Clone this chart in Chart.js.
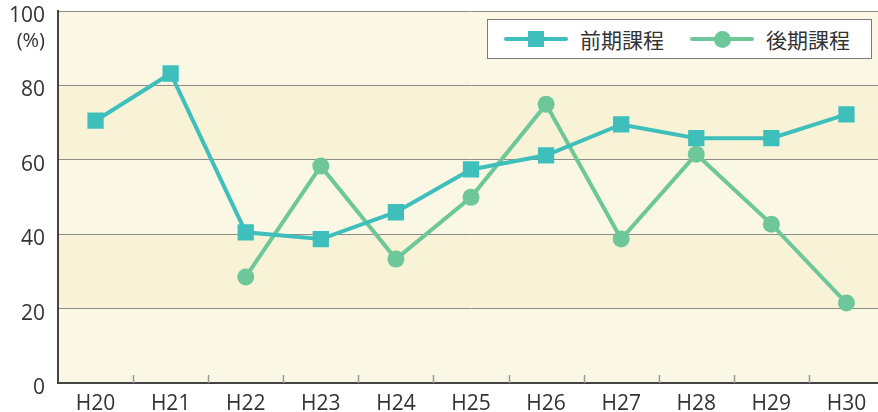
<!DOCTYPE html>
<html>
<head>
<meta charset="utf-8">
<script src="https://cdn.jsdelivr.net/npm/chart.js@4/dist/chart.umd.min.js"></script>
<style>
  body { margin: 0; background: #fff; }
  #wrap { position: relative; width: 878px; height: 412px; overflow: hidden; }
  #chart { display: block; }
  #legend {
    position: absolute; left: 487px; top: 19px; width: 383px; height: 38px;
    border: 1px solid #7a7a7a; background: #fff;
    display: flex; align-items: center;
    font-family: 'Noto Sans CJK JP', sans-serif; font-size: 21px; color: #333;
  }
  .item { display: flex; align-items: center; }
  .swatch { position: relative; width: 64px; height: 4px; border-radius: 2px; margin-right: 12px; }
  .swatch i { position: absolute; left: 24px; top: -6px; width: 16px; height: 16px; }
</style>
</head>
<body>
<div id="wrap">
  <!-- the plot runs a little past the right edge of the picture, so the canvas is a bit wider than the window -->
  <canvas id="chart" width="884" height="412"></canvas>
  <div id="legend"></div>
</div>
<script>
// Data
const years = ['H20', 'H21', 'H22', 'H23', 'H24', 'H25', 'H26', 'H27', 'H28', 'H29', 'H30'];
const zenki = [70.5, 83.2, 40.5, 38.7, 45.9, 57.4, 61.2, 69.5, 65.8, 65.8, 72.2];
const kouki = [null, null, 28.5, 58.3, 33.3, 49.9, 74.9, 38.7, 61.5, 42.7, 21.5];
const yTicks = [0, 20, 40, 60, 80, 100];

const TEAL = '#3fbfbb';
const GREEN = '#6ec799';
const FONT = "'Open Sans', 'Noto Sans CJK JP', sans-serif";

// Bands behind the grid
const bandPlugin = {
  id: 'bands',
  beforeDraw(chart) {
    const { ctx, chartArea } = chart;
    const y = chart.scales.y;
    ctx.save();
    for (let i = 0; i < yTicks.length - 1; i++) {
      const top = y.getPixelForValue(yTicks[i + 1]);
      const bottom = y.getPixelForValue(yTicks[i]);
      ctx.fillStyle = i % 2 === 0 ? '#faf7e4' : '#f8f3d7';
      ctx.fillRect(chartArea.left, top, chartArea.right - chartArea.left, bottom - top);
    }
    ctx.restore();
  }
};

// Small upward ticks between categories, and the (%) unit
const extrasPlugin = {
  id: 'extras',
  beforeDatasetsDraw(chart) {
    const { ctx, chartArea } = chart;
    const x = chart.scales.x;
    ctx.save();
    ctx.strokeStyle = '#9a9a9a';
    ctx.lineWidth = 1.5;
    for (let i = 1; i < years.length; i++) {
      const px = Math.round((x.getPixelForValue(i - 1) + x.getPixelForValue(i)) / 2) + 0.5;
      ctx.beginPath();
      ctx.moveTo(px, chartArea.bottom);
      ctx.lineTo(px, chartArea.bottom - 8);
      ctx.stroke();
    }
    ctx.restore();
  },
  afterDraw(chart) {
    const { ctx } = chart;
    const y = chart.scales.y;
    ctx.save();
    ctx.font = '20px ' + FONT;
    ctx.fillStyle = '#333';
    ctx.textAlign = 'right';
    ctx.textBaseline = 'middle';
    ctx.fillText('(%)', y.right - 13, y.getPixelForValue(100) + 30);
    ctx.restore();
  }
};

const datasets = [
  {
    label: '前期課程',
    data: zenki,
    borderColor: TEAL,
    backgroundColor: TEAL,
    borderWidth: 4,
    pointStyle: 'rect',
    pointRadius: 11.5,
    pointBorderWidth: 0,
    tension: 0
  },
  {
    label: '後期課程',
    data: kouki,
    borderColor: GREEN,
    backgroundColor: GREEN,
    borderWidth: 4,
    pointStyle: 'circle',
    pointRadius: 8.5,
    pointBorderWidth: 0,
    tension: 0
  }
];

new Chart(document.getElementById('chart'), {
  type: 'line',
  data: { labels: years, datasets },
  options: {
    responsive: false,
    animation: false,
    layout: { autoPadding: false, padding: { top: 11, right: 0, left: 0, bottom: 0 } },
    plugins: { legend: { display: false }, tooltip: { enabled: false } },
    scales: {
      x: {
        offset: true,
        grid: { display: false },
        border: { color: '#444', width: 2 },
        ticks: { color: '#333', font: { family: FONT, size: 21, lineHeight: 1 }, padding: 3 },
        afterFit(scale) {
          scale.height = 29;
          scale.paddingLeft = 0;
          scale.paddingRight = 0;
        }
      },
      y: {
        min: 0,
        max: 100,
        grid: { color: '#8c8c8c', lineWidth: 1, drawTicks: false },
        border: { color: '#444', width: 2 },
        ticks: {
          stepSize: 20,
          color: '#333',
          font: { family: FONT, size: 21, lineHeight: 1 },
          padding: 13,
          labelOffset: 5
        },
        afterFit(scale) {
          scale.width = 58;
          scale.paddingTop = 0;
          scale.paddingBottom = 0;
        }
      }
    }
  },
  plugins: [bandPlugin, extrasPlugin]
});

// Legend
const legend = document.getElementById('legend');
datasets.forEach((ds, i) => {
  const item = document.createElement('div');
  item.className = 'item';
  item.style.marginLeft = i === 0 ? '16px' : '26px';
  const sw = document.createElement('span');
  sw.className = 'swatch';
  sw.style.background = ds.borderColor;
  const mk = document.createElement('i');
  mk.style.background = ds.borderColor;
  if (ds.pointStyle === 'circle') {
    mk.style.borderRadius = '50%';
    mk.style.width = '17px';
    mk.style.height = '17px';
    mk.style.top = '-6.5px';
  }
  sw.appendChild(mk);
  const txt = document.createElement('span');
  txt.textContent = ds.label;
  item.appendChild(sw);
  item.appendChild(txt);
  legend.appendChild(item);
});
</script>
</body>
</html>
